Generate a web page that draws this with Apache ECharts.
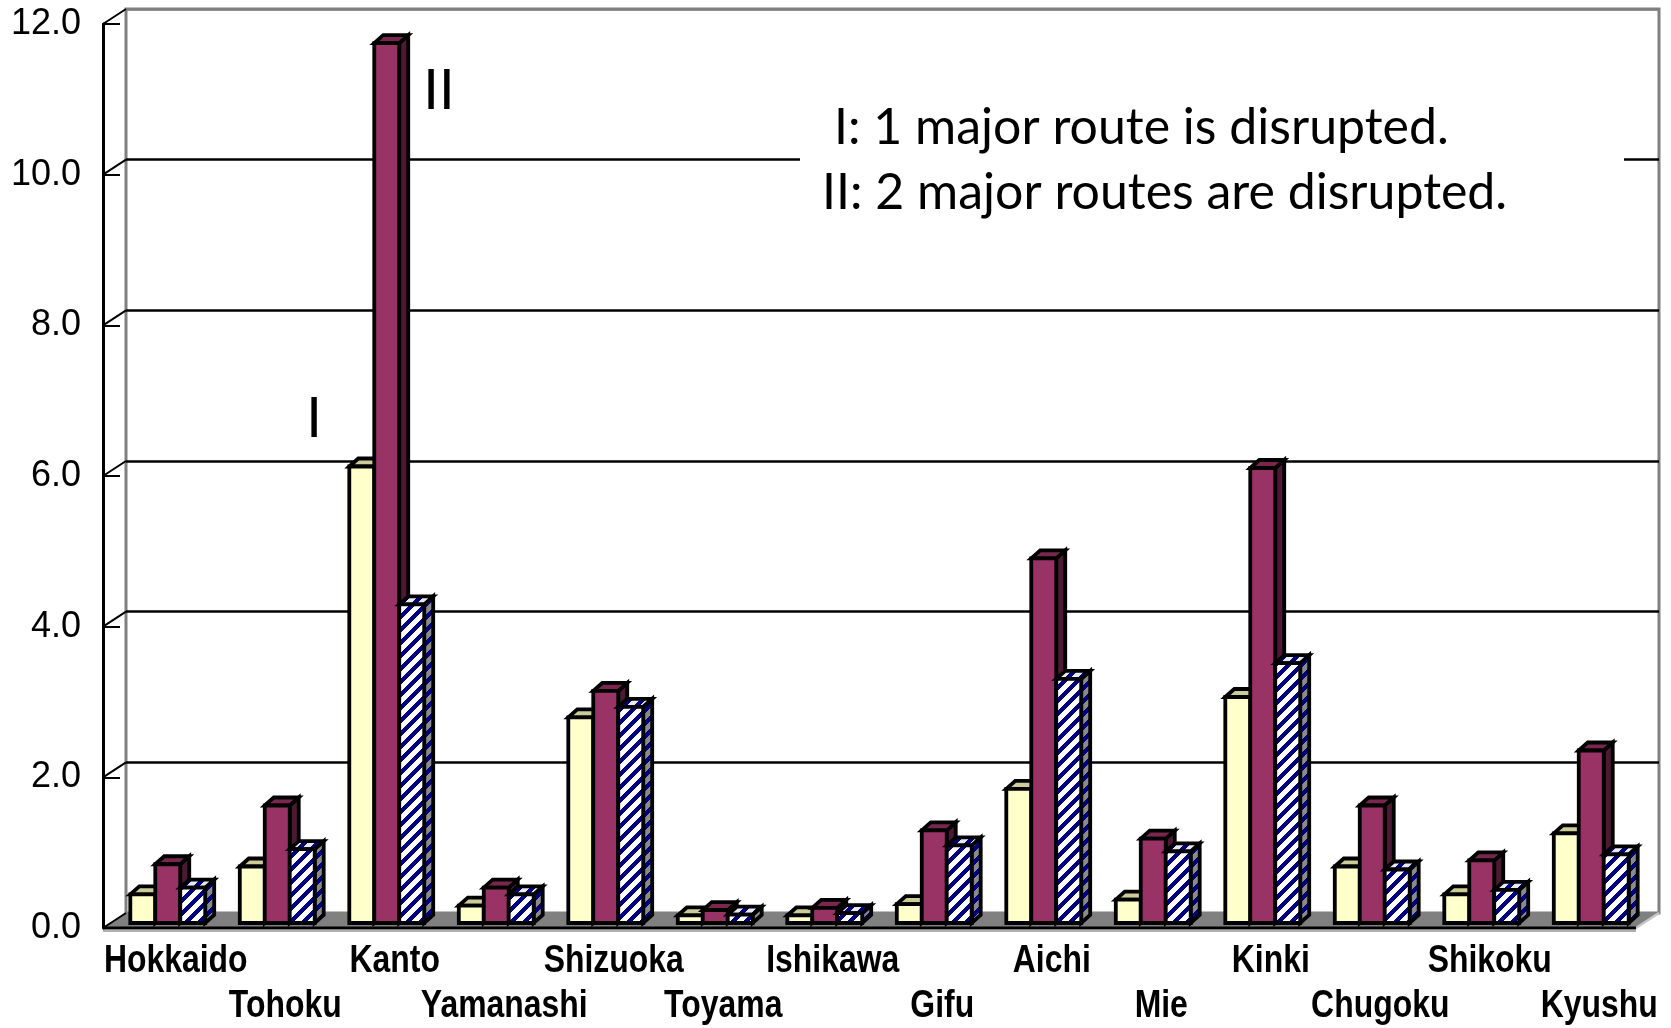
<!DOCTYPE html>
<html>
<head>
<meta charset="utf-8">
<script src="https://cdn.jsdelivr.net/npm/echarts@6/dist/echarts.min.js"></script>
<style>
  html, body { margin: 0; padding: 0; background: #ffffff; }
  #chart { width: 1671px; height: 1028px; }
</style>
</head>
<body>
<div id="chart"></div>
<script>
// Regions along the horizontal axis
const regions = ['Hokkaido', 'Tohoku', 'Kanto', 'Yamanashi', 'Shizuoka', 'Toyama', 'Ishikawa',
                 'Gifu', 'Aichi', 'Mie', 'Kinki', 'Chugoku', 'Shikoku', 'Kyushu'];

// Case I: one major route disrupted
const caseI   = [0.38, 0.75, 6.06, 0.23, 2.73, 0.10, 0.10, 0.25, 1.78, 0.31, 3.00, 0.75, 0.38, 1.19];
// Case II: two major routes disrupted
const caseII  = [0.78, 1.56, 11.68, 0.47, 3.08, 0.17, 0.20, 1.23, 4.84, 1.12, 6.04, 1.56, 0.83, 2.29];
// Third (hatched) series
const caseIII = [0.47, 0.98, 4.23, 0.38, 2.87, 0.11, 0.13, 1.03, 3.24, 0.95, 3.45, 0.71, 0.44, 0.91];

// Value axis ticks
const valueTicks = [0, 2, 4, 6, 8, 10, 12];

// Depth of the back wall relative to the front plane (pixels)
const WALL_DX = 23, WALL_DY = -15;
// Position of the bar row inside the floor, and the bars' own depth
const ROW_DX = 10, ROW_DY = -5;
const BAR_DX = 9, BAR_DY = -8;

function stripeTile(bg, fg) {
  const n = 13;
  const c = document.createElement('canvas');
  c.width = n; c.height = n;
  const g = c.getContext('2d');
  g.fillStyle = bg; g.fillRect(0, 0, n, n);
  g.fillStyle = fg;
  for (let y = 0; y < n; y++) {
    for (let x = 0; x < n; x++) {
      if (((x + y) % n) < 6) g.fillRect(x, y, 1, 1);
    }
  }
  return c;
}

const hatchFront = { image: stripeTile('#ffffff', '#000080'), repeat: 'repeat' };
const hatchSide  = { image: stripeTile('#8a8a8a', '#000080'), repeat: 'repeat' };
const hatchTop   = { image: stripeTile('#e8e8f0', '#000080'), repeat: 'repeat' };

const faceSets = [
  { front: '#ffffcc', top: '#cccc99', side: '#999966' },
  { front: '#993366', top: '#7a2750', side: '#4d1a33' },
  { front: hatchFront, top: hatchTop, side: hatchSide }
];

const edge = { stroke: '#000000', lineWidth: 3.8, lineJoin: 'miter' };

function barRenderer(slot) {
  const faces = faceSets[slot];
  return function (params, api) {
    const i = api.value(0), v = api.value(1);
    const top = api.coord([i, v]);
    const base = api.coord([i, 0]);
    const band = api.size([1, 0])[0];
    const bw = band * 0.228;
    const x0 = top[0] + ROW_DX + (slot - 1) * bw - bw / 2;
    const yTop = top[1] + ROW_DY;
    const yBot = base[1] + ROW_DY;
    return {
      type: 'group',
      children: [
        { type: 'polygon',
          shape: { points: [[x0 + bw, yTop], [x0 + bw + BAR_DX, yTop + BAR_DY], [x0 + bw + BAR_DX, yBot + BAR_DY], [x0 + bw, yBot]] },
          style: Object.assign({ fill: faces.side }, edge) },
        { type: 'polygon',
          shape: { points: [[x0, yTop], [x0 + BAR_DX, yTop + BAR_DY], [x0 + bw + BAR_DX, yTop + BAR_DY], [x0 + bw, yTop]] },
          style: Object.assign({ fill: faces.top }, edge) },
        { type: 'rect',
          shape: { x: x0, y: yTop, width: bw, height: yBot - yTop },
          style: Object.assign({ fill: faces.front }, edge) }
      ]
    };
  };
}

// Floor of the plot box
function floorRenderer(params, api) {
  const cs = params.coordSys;
  const yF = cs.y + cs.height;
  const xL = cs.x, xR = cs.x + cs.width;
  return {
    type: 'group',
    children: [
      { type: 'polygon',
        shape: { points: [[xL, yF], [xR, yF], [xR + WALL_DX, yF + WALL_DY], [xL + WALL_DX, yF + WALL_DY]] },
        style: { fill: '#808080', stroke: '#808080', lineWidth: 1 } },
      { type: 'line', shape: { x1: xL, y1: yF + 3, x2: xR, y2: yF + 3 },
        style: { stroke: '#b0b0b0', lineWidth: 2 } },
      { type: 'line', shape: { x1: xR, y1: yF, x2: xR + WALL_DX, y2: yF + WALL_DY },
        style: { stroke: '#c8c8c8', lineWidth: 2.5 } },
      { type: 'line', shape: { x1: xL, y1: yF, x2: xR, y2: yF },
        style: { stroke: '#000000', lineWidth: 3 } }
    ]
  };
}

// Diagonal links from the front axis ticks to the wall grid lines
function wallTickRenderer(params, api) {
  const cs = params.coordSys;
  const p = api.coord([0, api.value(0)]);
  return {
    type: 'line',
    shape: { x1: cs.x, y1: p[1], x2: cs.x + WALL_DX, y2: p[1] + WALL_DY },
    style: { stroke: '#000000', lineWidth: 2 }
  };
}

// Region names under the floor, staggered over two rows, in a condensed bold face
function regionLabelRenderer(params, api) {
  const i = api.value(0);
  const p = api.coord([i, 0]);
  const row = i % 2;
  return {
    type: 'text',
    x: p[0] + 18,
    y: p[1] + 34 + row * 45,
    scaleX: 0.84,
    style: {
      text: regions[i],
      fontFamily: '"Liberation Sans", Arial, sans-serif',
      fontWeight: 'bold', fontSize: 38, fill: '#000000',
      textAlign: 'center', textVerticalAlign: 'middle'
    }
  };
}

const chart = echarts.init(document.getElementById('chart'), null, { renderer: 'canvas' });

const seriesData = [caseI, caseII, caseIII];

chart.setOption({
  animation: false,
  backgroundColor: '#ffffff',
  grid: [
    { left: 103, right: 35, top: 24, bottom: 100 },
    { left: 126, right: 12, top: 9, bottom: 115, show: true, borderColor: '#808080', borderWidth: 3, backgroundColor: '#ffffff' }
  ],
  xAxis: [
    {
      gridIndex: 0, type: 'category', data: regions, boundaryGap: true,
      axisLine: { show: false }, axisTick: { show: false }, axisLabel: { show: false }
    },
    { gridIndex: 1, type: 'category', data: regions, show: false }
  ],
  yAxis: [
    {
      gridIndex: 0, type: 'value', min: 0, max: 12, interval: 2,
      axisLine: { show: true, lineStyle: { color: '#000000', width: 3 } },
      axisTick: { show: true, inside: true, length: 17, lineStyle: { color: '#000000', width: 2 } },
      axisLabel: {
        margin: 22, color: '#000000', fontSize: 36,
        fontFamily: '"Liberation Sans", Arial, sans-serif',
        formatter: function (v) { return v.toFixed(1); }
      },
      splitLine: { show: false }
    },
    {
      gridIndex: 1, type: 'value', min: 0, max: 12, interval: 2,
      axisLine: { show: false }, axisTick: { show: false }, axisLabel: { show: false },
      splitLine: {
        show: true,
        lineStyle: { width: 2.5, color: ['#808080', '#000000', '#000000', '#000000', '#000000', '#000000', '#808080'] }
      }
    }
  ],
  graphic: [
    { type: 'rect', shape: { x: 800, y: 100, width: 824, height: 122 }, style: { fill: '#ffffff' }, z: 5 },
    { type: 'text', x: 834, y: 128, z: 6,
      style: { text: 'I: 1 major route is disrupted.', fontFamily: 'Lato, "Open Sans", sans-serif', fontSize: 50,
               fill: '#000000', textAlign: 'left', textVerticalAlign: 'middle' } },
    { type: 'text', x: 822, y: 193, z: 6,
      style: { text: 'II: 2 major routes are disrupted.', fontFamily: 'Lato, "Open Sans", sans-serif', fontSize: 50,
               fill: '#000000', textAlign: 'left', textVerticalAlign: 'middle' } },
    { type: 'text', x: 314, y: 419, z: 6,
      style: { text: 'I', fontFamily: 'Lato, "Open Sans", sans-serif', fontSize: 56,
               fill: '#000000', textAlign: 'center', textVerticalAlign: 'middle' } },
    { type: 'text', x: 439, y: 91, z: 6,
      style: { text: 'II', fontFamily: 'Lato, "Open Sans", sans-serif', fontSize: 56,
               fill: '#000000', textAlign: 'center', textVerticalAlign: 'middle' } }
  ],
  series: [
    { type: 'custom', xAxisIndex: 0, yAxisIndex: 0, data: [[0, 0]], renderItem: floorRenderer, clip: false, silent: true, z: 1 },
    { type: 'custom', xAxisIndex: 0, yAxisIndex: 0, data: valueTicks.map(function (t) { return [t]; }),
      encode: { y: 0 }, renderItem: wallTickRenderer, clip: false, silent: true, z: 1 },
    { type: 'custom', xAxisIndex: 0, yAxisIndex: 0, data: regions.map(function (r, i) { return [i]; }),
      encode: { x: 0 }, renderItem: regionLabelRenderer, clip: false, silent: true, z: 6 }
  ].concat(seriesData.map(function (vals, s) {
    return {
      type: 'custom', name: ['I', 'II', 'III'][s], xAxisIndex: 0, yAxisIndex: 0,
      data: vals.map(function (v, i) { return [i, v]; }),
      encode: { x: 0, y: 1 },
      renderItem: barRenderer(s), clip: false, z: 2 + s
    };
  }))
});
</script>
</body>
</html>
